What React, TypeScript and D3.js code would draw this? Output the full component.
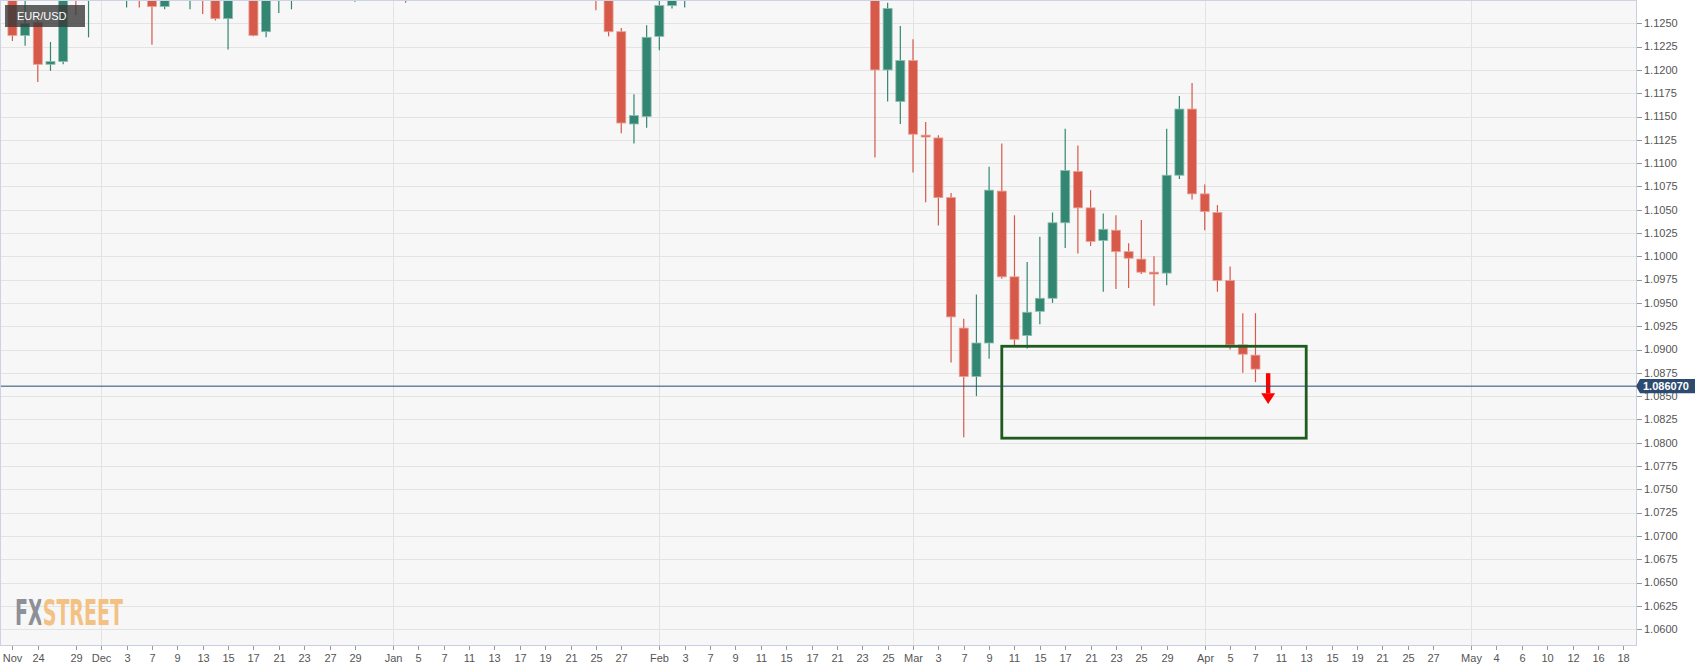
import React from "react";
import * as d3 from "d3";

// ---- data ----
const symbol = "EUR/USD";
const watermark = "FXSTREET";
const firstCandleDate = "2021-11-19"; // candles are consecutive trading days from here
const calendarEnd = "2022-05-24";
const opens = [
  1.137, 1.129, 1.1237, 1.1251, 1.1206, 1.1209, 1.132, 1.129, 1.1338, 1.132,
  1.13, 1.1315, 1.1285, 1.1268, 1.1345, 1.129, 1.1315, 1.1285, 1.1255, 1.129,
  1.133, 1.1241, 1.1283, 1.129, 1.133, 1.1325, 1.132, 1.133, 1.131, 1.135,
  1.1325, 1.137, 1.13, 1.129, 1.131, 1.1295, 1.136, 1.1325, 1.1365, 1.144,
  1.1455, 1.141, 1.1405, 1.1327, 1.1345, 1.131, 1.1345, 1.1325, 1.13, 1.1241,
  1.1142, 1.115, 1.1236, 1.1269, 1.13, 1.144, 1.145, 1.144, 1.1415, 1.1425,
  1.143, 1.135, 1.1305, 1.136, 1.1375, 1.136, 1.132, 1.131, 1.1315, 1.131,
  1.12, 1.1166, 1.121, 1.113, 1.1127, 1.1063, 1.0923, 1.0871, 1.0907, 1.107,
  1.0978, 1.0915, 1.0941, 1.0955, 1.1036, 1.1091, 1.1052, 1.1017, 1.1028, 1.1005,
  1.0997, 1.0983, 1.0982, 1.1087, 1.1158, 1.1067, 1.1047, 1.0974, 1.0905, 1.0894,
];
const highs = [
  1.1374, 1.13, 1.128, 1.1262, 1.123, 1.1325, 1.1335, 1.1383, 1.1383, 1.1335,
  1.133, 1.133, 1.13, 1.1355, 1.1355, 1.132, 1.133, 1.13, 1.13, 1.136,
  1.134, 1.13, 1.1303, 1.1345, 1.1343, 1.134, 1.1335, 1.1345, 1.1365, 1.137,
  1.1385, 1.1375, 1.1322, 1.1346, 1.132, 1.1365, 1.1365, 1.1375, 1.145, 1.148,
  1.148, 1.143, 1.141, 1.1365, 1.137, 1.1365, 1.136, 1.133, 1.1315, 1.1245,
  1.1174, 1.1248, 1.128, 1.131, 1.145, 1.1483, 1.1455, 1.1445, 1.145, 1.1495,
  1.144, 1.1365, 1.137, 1.1395, 1.1395, 1.1375, 1.1395, 1.1365, 1.1345, 1.132,
  1.1272, 1.1247, 1.1233, 1.1144, 1.113, 1.1068, 1.0933, 1.0959, 1.1096, 1.1121,
  1.1044, 1.0994, 1.1021, 1.1047, 1.1137, 1.1119, 1.1071, 1.1046, 1.1044, 1.1014,
  1.1039, 1.1, 1.1137, 1.1172, 1.1186, 1.1077, 1.1055, 1.0989, 1.0939, 1.0939,
];
const lows = [
  1.125, 1.1231, 1.1226, 1.1187, 1.1199, 1.1206, 1.1259, 1.1235, 1.1305, 1.129,
  1.1267, 1.1267, 1.1227, 1.1265, 1.128, 1.1265, 1.126, 1.1253, 1.1222, 1.128,
  1.1236, 1.1235, 1.1261, 1.1265, 1.13, 1.131, 1.1305, 1.129, 1.1273, 1.13,
  1.132, 1.1285, 1.1272, 1.1285, 1.1285, 1.129, 1.1285, 1.1315, 1.1355, 1.1435,
  1.14, 1.1395, 1.1325, 1.131, 1.1305, 1.13, 1.13, 1.1264, 1.1236, 1.1132,
  1.1121, 1.1138, 1.1221, 1.1266, 1.1267, 1.141, 1.1405, 1.1395, 1.1405, 1.1375,
  1.134, 1.128, 1.1295, 1.1335, 1.134, 1.1315, 1.13, 1.129, 1.1305, 1.1106,
  1.1166, 1.1142, 1.109, 1.1058, 1.1033, 1.0886, 1.0806, 1.085, 1.089, 1.0976,
  1.0903, 1.0901, 1.0927, 1.095, 1.1009, 1.1003, 1.1011, 1.0962, 1.0965, 1.0966,
  1.0981, 1.0947, 1.0969, 1.1083, 1.1061, 1.1028, 1.0962, 1.09, 1.0875, 1.0865,
];
const closes = [
  1.1289, 1.1237, 1.125, 1.1206, 1.1209, 1.1318, 1.129, 1.1338, 1.132, 1.13,
  1.1315, 1.1285, 1.1268, 1.1345, 1.129, 1.1315, 1.1285, 1.1255, 1.129, 1.133,
  1.1237, 1.1283, 1.129, 1.133, 1.1325, 1.132, 1.133, 1.131, 1.135, 1.1325,
  1.137, 1.13, 1.129, 1.131, 1.1295, 1.136, 1.1325, 1.1365, 1.144, 1.1455,
  1.141, 1.1405, 1.1327, 1.1345, 1.131, 1.1345, 1.1325, 1.13, 1.1241, 1.1143,
  1.1151, 1.1235, 1.1269, 1.13, 1.144, 1.145, 1.144, 1.1415, 1.1425, 1.143,
  1.135, 1.1305, 1.136, 1.1375, 1.136, 1.132, 1.131, 1.1315, 1.131, 1.12,
  1.1266, 1.121, 1.1131, 1.1128, 1.1063, 1.0935, 1.0871, 1.0907, 1.1071, 1.0978,
  1.0911, 1.094, 1.0955, 1.1036, 1.1092, 1.1052, 1.1016, 1.1029, 1.1005, 1.0998,
  1.0983, 1.0981, 1.1087, 1.1158, 1.1067, 1.1048, 1.0974, 1.0905, 1.0895, 1.0879,
];
const lastPrice = 1.08607;
const lastPriceLabel = "1.086070";
const yTickValues = d3.range(0, 27).map((i) => +(1.06 + i * 0.0025).toFixed(4));
const xTickDates = [
  "2021-11-22", "2021-11-24", "2021-11-29", "2021-12-01", "2021-12-03", "2021-12-07",
  "2021-12-09", "2021-12-13", "2021-12-15", "2021-12-17", "2021-12-21", "2021-12-23",
  "2021-12-27", "2021-12-29", "2022-01-03", "2022-01-05", "2022-01-07", "2022-01-11",
  "2022-01-13", "2022-01-17", "2022-01-19", "2022-01-21", "2022-01-25", "2022-01-27",
  "2022-02-01", "2022-02-03", "2022-02-07", "2022-02-09", "2022-02-11", "2022-02-15",
  "2022-02-17", "2022-02-21", "2022-02-23", "2022-02-25", "2022-03-01", "2022-03-03",
  "2022-03-07", "2022-03-09", "2022-03-11", "2022-03-15", "2022-03-17", "2022-03-21",
  "2022-03-23", "2022-03-25", "2022-03-29", "2022-04-01", "2022-04-05", "2022-04-07",
  "2022-04-11", "2022-04-13", "2022-04-15", "2022-04-19", "2022-04-21", "2022-04-25",
  "2022-04-27", "2022-05-02", "2022-05-04", "2022-05-06", "2022-05-10", "2022-05-12",
  "2022-05-16", "2022-05-18",
];
const xTickLabels = [
  "Nov", "24", "29", "Dec", "3", "7", "9", "13", "15", "17", "21", "23", "27", "29",
  "Jan", "5", "7", "11", "13", "17", "19", "21", "25", "27",
  "Feb", "3", "7", "9", "11", "15", "17", "21", "23", "25",
  "Mar", "3", "7", "9", "11", "15", "17", "21", "23", "25", "29",
  "Apr", "5", "7", "11", "13", "15", "19", "21", "25", "27",
  "May", "4", "6", "10", "12", "16", "18",
];
const monthLineDates = ["2021-12-01", "2022-01-03", "2022-02-01", "2022-03-01", "2022-04-01", "2022-05-02"];
const zoneStart = "2022-03-10";
const zoneEnd = "2022-04-13";
const zoneHigh = 1.09035;
const zoneLow = 1.08049;
const arrowDate = "2022-04-08";
const arrowFrom = 1.08746;
const arrowTo = 1.08416;

// ---- layout ----
const W = 1707;
const H = 671;
const plotRight = 1636;
const plotBottom = 645;
const FONT = "'Liberation Sans', Arial, sans-serif";
const RED = "#d6594a";
const GREEN = "#338671";

const fmt = d3.timeFormat("%Y-%m-%d");
const parse = d3.timeParse("%Y-%m-%d");
const calendar = d3.timeDay
  .range(parse(firstCandleDate)!, d3.timeDay.offset(parse(calendarEnd)!, 1))
  .filter((d) => d.getDay() !== 0 && d.getDay() !== 6)
  .map(fmt);
const dayIndex = new Map(calendar.map((d, i) => [d, i]));
const idx = (s: string) => dayIndex.get(s) as number;

export default function App() {
  const x = d3.scaleLinear().domain([0.02, 129.0]).range([0, plotRight]);
  const y = d3.scaleLinear().domain([1.0583, 1.1275]).range([plotBottom, 0]);
  const bodyW = 9;

  const candles = opens.map((o, i) => ({
    i,
    o,
    h: highs[i],
    l: lows[i],
    c: closes[i],
  }));

  const ly = y(lastPrice);
  const ax = x(idx(arrowDate));
  const ay0 = y(arrowFrom);
  const ay1 = y(arrowTo);
  const headTop = ay1 - 10.7;
  const wmFont = "'Liberation Sans Narrow', 'DejaVu Sans Condensed', 'Liberation Sans', sans-serif";

  return (
    <svg
      width={W}
      height={H}
      style={{ position: "absolute", left: 0, top: 0, background: "#ffffff" }}
    >
      <defs>
        <clipPath id="plotClip">
          <rect x={0} y={0} width={plotRight} height={plotBottom} />
        </clipPath>
        <linearGradient id="wmGrad" gradientUnits="userSpaceOnUse" x1={15} y1={0} x2={123} y2={0}>
          <stop offset="0.245" stopColor="#8d9096" />
          <stop offset="0.245" stopColor="#f2c183" />
        </linearGradient>
      </defs>
      <rect x={0} y={0} width={plotRight} height={plotBottom} fill="#f7f7f7" />
      {/* grid */}
      <g>
        {yTickValues.map((v) => (
          <line key={v} x1={0} x2={plotRight} y1={Math.round(y(v)) + 0.5} y2={Math.round(y(v)) + 0.5} stroke="#e3e3e3" strokeWidth={1} />
        ))}
        {monthLineDates.map((d) => (
          <line key={d} x1={Math.round(x(idx(d))) + 0.5} x2={Math.round(x(idx(d))) + 0.5} y1={0} y2={plotBottom} stroke="#e3e3e3" strokeWidth={1} />
        ))}
      </g>
      {/* candles */}
      <g clipPath="url(#plotClip)">
        {candles.map((k) => {
          const up = k.c >= k.o;
          const col = up ? GREEN : RED;
          const cx = x(k.i);
          const top = y(Math.max(k.o, k.c));
          const bot = y(Math.min(k.o, k.c));
          return (
            <g key={k.i}>
              <line x1={cx} x2={cx} y1={y(k.h)} y2={y(k.l)} stroke={col} strokeWidth={1.2} />
              <rect
                x={cx - bodyW / 2}
                y={top}
                width={bodyW}
                height={Math.max(bot - top, 1.5)}
                fill={col}
                stroke={up ? "#8dbdb1" : "#eba196"}
                strokeWidth={0.8}
              />
            </g>
          );
        })}
        {/* zone box */}
        <rect
          x={x(idx(zoneStart))}
          y={y(zoneHigh)}
          width={x(idx(zoneEnd)) - x(idx(zoneStart))}
          height={y(zoneLow) - y(zoneHigh)}
          fill="none"
          stroke="#1e5b1e"
          strokeWidth={2.8}
        />
        {/* arrow */}
        <rect x={ax - 2.2} y={ay0} width={4.4} height={headTop - ay0} fill="#ff0000" />
        <polygon points={`${ax - 7},${headTop} ${ax + 7},${headTop} ${ax},${ay1}`} fill="#ff0000" />
        {/* last price line */}
        <line x1={0} x2={plotRight} y1={ly} y2={ly} stroke="#2a4a70" strokeWidth={1} />
      </g>
      {/* borders */}
      <line x1={0.5} x2={0.5} y1={0} y2={plotBottom} stroke="#cdd2e6" />
      <line x1={0} x2={plotRight} y1={0.5} y2={0.5} stroke="#cdd2e6" />
      <line x1={plotRight + 0.5} x2={plotRight + 0.5} y1={0} y2={plotBottom} stroke="#c9cee3" />
      <line x1={0} x2={plotRight + 1} y1={plotBottom + 0.5} y2={plotBottom + 0.5} stroke="#c9cee3" />
      {/* y axis */}
      <g fontFamily={FONT} fontSize={11} fill="#555">
        {yTickValues.map((v) => (
          <g key={v}>
            <line x1={plotRight + 1} x2={plotRight + 6} y1={Math.round(y(v)) + 0.5} y2={Math.round(y(v)) + 0.5} stroke="#999" />
            <text x={plotRight + 8} y={y(v)} dy="0.35em">
              {v.toFixed(4)}
            </text>
          </g>
        ))}
      </g>
      {/* last price tag */}
      <g>
        <polygon
          points={`${plotRight},${ly} ${plotRight + 4},${ly - 7.2} ${plotRight + 59},${ly - 7.2} ${plotRight + 59},${ly + 7.2} ${plotRight + 4},${ly + 7.2}`}
          fill="#2c4b6f"
        />
        <text x={plotRight + 7} y={ly} dy="0.36em" fontFamily={FONT} fontSize={11} fontWeight="bold" fill="#ffffff">
          {lastPriceLabel}
        </text>
      </g>
      {/* x axis */}
      <g fontFamily={FONT} fontSize={11} fill="#555" textAnchor="middle">
        {xTickDates.map((d, i) => {
          const tx = Math.round(x(idx(d))) + 0.5;
          return (
            <g key={d}>
              <line x1={tx} x2={tx} y1={plotBottom + 1} y2={plotBottom + 5} stroke="#999" />
              <text x={tx} y={plotBottom + 17}>
                {xTickLabels[i]}
              </text>
            </g>
          );
        })}
      </g>
      {/* symbol label */}
      <rect x={5} y={5} width={80} height={22} fill="rgba(58,58,58,0.8)" />
      <text x={17} y={20} fontFamily={FONT} fontSize={11} fill="#ffffff">
        {symbol}
      </text>
      {/* watermark */}
      <text
        x={15}
        y={625}
        fontFamily={wmFont}
        fontWeight="bold"
        fontSize={36}
        fill="url(#wmGrad)"
        textLength={108}
        lengthAdjust="spacingAndGlyphs"
      >
        {watermark}
      </text>
    </svg>
  );
}
